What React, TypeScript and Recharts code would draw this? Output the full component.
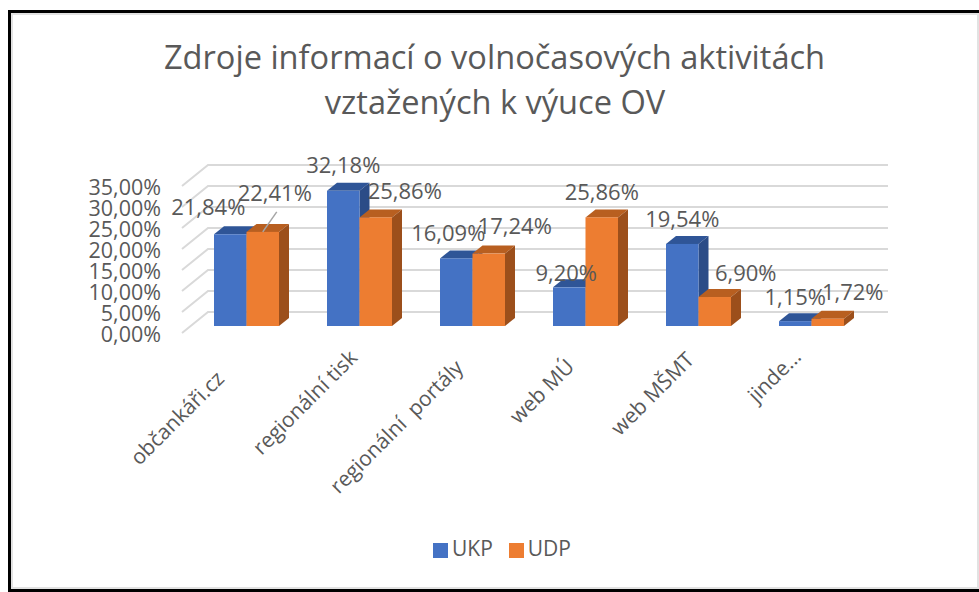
import { BarChart, Bar, XAxis, YAxis, CartesianGrid, Legend, LabelList } from "recharts";

const categories = ["občankáři.cz", "regionální tisk", "regionální  portály", "web MÚ", "web MŠMT", "jinde..."];
const ukp = [21.84, 32.18, 16.09, 9.2, 19.54, 1.15];
const udp = [22.41, 25.86, 17.24, 25.86, 6.9, 1.72];
const yTicks = [0, 5, 10, 15, 20, 25, 30, 35];

const data = categories.map((name, i) => ({ name, UKP: ukp[i], UDP: udp[i] }));

// labels were dragged around by hand in the original, so each one has its own nudge
const ukpLabelNudge = [[-22, -27], [0, -26], [-8, -25], [-3, -14], [0, -25], [0, -24]];
const udpLabelNudge = [[12, -39], [29, -26], [26, -28], [0, -25], [31, -24], [25, -27]];
const tickNudge = [[-21, 54], [-1, 33], [-8, 43], [-10, 42], [-3, 35], [-9, 32]];

const FONT = "'Open Sans', sans-serif";
const TEXT = "#595959";
const DEPTH_X = 10;
const DEPTH_Y = 8;

const fmt = (v: number) => v.toFixed(2).replace(".", ",") + "%";

function bar3D(front: string, top: string, side: string) {
  return (p: any) => {
    const { x, y, width: w, height: h } = p;
    return (
      <g>
        <polygon fill={top} points={`${x},${y} ${x + DEPTH_X},${y - DEPTH_Y} ${x + w + DEPTH_X},${y - DEPTH_Y} ${x + w},${y}`} />
        <polygon fill={side} points={`${x + w},${y} ${x + w + DEPTH_X},${y - DEPTH_Y} ${x + w + DEPTH_X},${y + h - DEPTH_Y} ${x + w},${y + h}`} />
        <rect x={x} y={y} width={w} height={h} fill={front} />
      </g>
    );
  };
}

function gridLine(p: any) {
  const { x1, x2, y1 } = p;
  return (
    <g key={p.key ?? y1} stroke="#d9d9d9" strokeWidth={2} fill="none">
      <polyline points={`${x1 - 8},${y1 + 7} ${x1 + 18},${y1 - 14} ${x2 + 20},${y1 - 14}`} />
    </g>
  );
}

function valueLabel(nudge: number[][], leader?: number) {
  return (p: any) => {
    const { x, y, width, value, index } = p;
    const cx = x + width / 2;
    return (
      <g>
        {index === leader && <line x1={cx} y1={y} x2={cx + 14} y2={y - 20} stroke="#a6a6a6" strokeWidth={1.5} />}
        <text x={cx + nudge[index][0]} y={y + nudge[index][1] + 8} textAnchor="middle" fontFamily={FONT} fontSize={22} fill={TEXT}>
          {fmt(value)}
        </text>
      </g>
    );
  };
}

function CategoryTick(p: any) {
  const { x, y, payload, index } = p;
  const px = x + tickNudge[index][0];
  const py = y + tickNudge[index][1];
  return (
    <text x={px} y={py} textAnchor="end" transform={`rotate(-45 ${px} ${py})`} fontFamily={FONT} fontSize={21} fill={TEXT} xmlSpace="preserve">
      {payload.value}
    </text>
  );
}

function ValueTick(p: any) {
  const { x, y, payload } = p;
  return (
    <text x={x} y={y + 16} textAnchor="end" fontFamily={FONT} fontSize={21.5} fill={TEXT}>
      {fmt(payload.value)}
    </text>
  );
}

export default function App() {
  return (
    <div style={{ position: "absolute", left: 0, top: 0, width: 979, height: 592, background: "#fff", overflow: "hidden" }}>
      <div
        style={{
          position: "absolute",
          left: 8,
          top: 10,
          width: 971,
          height: 582,
          boxSizing: "border-box",
          borderLeft: "3px solid #000",
          borderTop: "3px solid #000",
          borderBottom: "3px solid #000",
        }}
      >
        <div style={{ width: "100%", height: "100%", boxSizing: "border-box", border: "2px solid #e2e2e2" }} />
      </div>
      <div style={{ position: "absolute", left: 0, top: 0 }}>
        <BarChart
          width={979}
          height={592}
          data={data}
          margin={{ top: 179, right: 111, bottom: 0, left: 0 }}
          barSize={32.5}
          barGap={0}
        >
          <CartesianGrid vertical={false} horizontal={gridLine} />
          <XAxis dataKey="name" height={266} axisLine={false} tickLine={false} tickSize={0} tickMargin={0} interval={0} tick={<CategoryTick />} />
          <YAxis width={190} domain={[0, 35]} ticks={yTicks} interval={0} axisLine={false} tickLine={false} tickSize={0} tickMargin={29} tick={<ValueTick />} />
          <Bar dataKey="UKP" fill="#4472c4" isAnimationActive={false} shape={bar3D("#4472c4", "#2f5597", "#2b4c87")}>
            <LabelList dataKey="UKP" content={valueLabel(ukpLabelNudge)} />
          </Bar>
          <Bar dataKey="UDP" fill="#ed7d31" isAnimationActive={false} shape={bar3D("#ed7d31", "#b85f20", "#9c4f1b")}>
            <LabelList dataKey="UDP" content={valueLabel(udpLabelNudge, 0)} />
          </Bar>
          <Legend
            layout="horizontal"
            verticalAlign="middle"
            align="center"
            iconType="square"
            iconSize={15}
            itemSorter={null as any}
            formatter={(v: string) => (
              <span style={{ color: TEXT, fontFamily: FONT, fontSize: 21, marginRight: 6, position: "relative", top: 2 }}>{v}</span>
            )}
            wrapperStyle={{ left: 425, top: 532, width: 170, bottom: "auto" }}
          />
          <text x={494.5} y={69} textAnchor="middle" fontFamily={FONT} fontSize={32.6} fill={TEXT}>
            Zdroje informací o volnočasových aktivitách
          </text>
          <text x={495} y={114} textAnchor="middle" fontFamily={FONT} fontSize={32.6} fill={TEXT}>
            vztažených k výuce OV
          </text>
        </BarChart>
      </div>
    </div>
  );
}
